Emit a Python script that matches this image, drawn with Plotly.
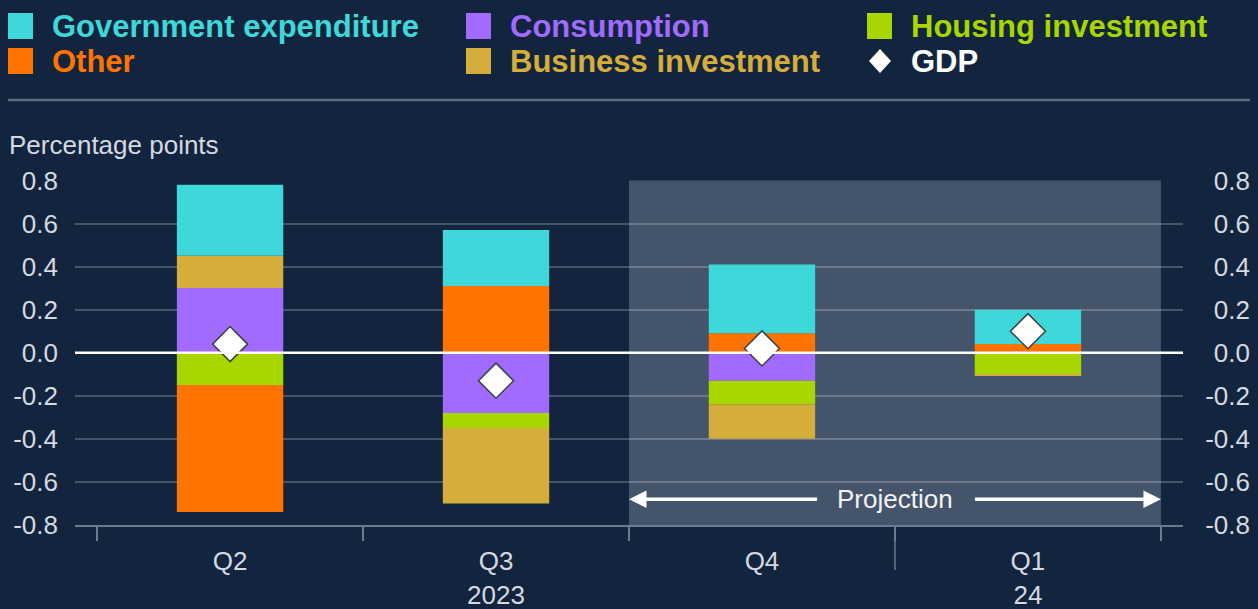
import plotly.graph_objects as go

# Quarterly contributions to GDP growth, percentage points
categories = ["Q2", "Q3", "Q4", "Q1"]
tick_labels = ["Q2", "Q3<br>2023", "Q4", "Q1<br>24"]
consumption = [0.30, -0.28, -0.13, 0.0]
housing_investment = [-0.15, -0.07, -0.11, -0.10]
other = [-0.59, 0.31, 0.09, 0.04]
business_investment = [0.15, -0.35, -0.16, -0.005]
government_expenditure = [0.33, 0.26, 0.32, 0.16]
gdp = [0.04, -0.13, 0.02, 0.10]

y_ticks = [-0.8, -0.6, -0.4, -0.2, 0.0, 0.2, 0.4, 0.6, 0.8]
y_tick_labels = ["-0.8", "-0.6", "-0.4", "-0.2", "0.0", "0.2", "0.4", "0.6", "0.8"]

projection_start = 1.5   # boundary between Q3 and Q4
projection_end = 3.5

BG = "#13243f"
SHADE = "#44546a"
GRID = "rgba(255,255,255,0.22)"
TEXT = "#d5d9e0"
AXIS = "#6a7a90"
FONT = "Liberation Sans, Arial, sans-serif"

colors = {
    "Government expenditure": "#3fd8da",
    "Consumption": "#a06bfe",
    "Housing investment": "#a7d600",
    "Other": "#ff7300",
    "Business investment": "#d4ad3b",
    "GDP": "#ffffff",
}

# page geometry (pixels) used for decorations outside the axes
W, H = 1258, 609
M_L, M_R, M_T, M_B = 75, 8, 180, 84
PLOT_RIGHT = 1183
PW = W - M_L - M_R
PH = H - M_T - M_B


def px_x(x):
    return (x - M_L) / PW


def px_y(y):
    return (H - M_B - y) / PH


fig = go.Figure()

# stacking order matters for "relative" bars
for name, vals in [
    ("Consumption", consumption),
    ("Housing investment", housing_investment),
    ("Other", other),
    ("Business investment", business_investment),
    ("Government expenditure", government_expenditure),
]:
    fig.add_trace(go.Bar(
        x=categories, y=vals, name=name,
        marker=dict(color=colors[name], line=dict(width=0)),
        showlegend=False,
    ))

fig.add_trace(go.Scatter(
    x=categories, y=gdp, name="GDP", mode="markers",
    marker=dict(symbol="diamond", size=27, color="white",
                line=dict(color="#3a3f48", width=1.5)),
    showlegend=False, cliponaxis=False,
))

# invisible trace to drive the right-hand axis
fig.add_trace(go.Scatter(x=categories, y=gdp, yaxis="y2", mode="markers",
                         marker=dict(opacity=0), showlegend=False,
                         hoverinfo="skip"))

shapes = [
    # projection period shading
    dict(type="rect", xref="x", yref="y", x0=projection_start, x1=projection_end,
         y0=-0.8, y1=0.8, fillcolor=SHADE, line=dict(width=0), layer="below"),
    # zero line drawn over the bars
    dict(type="line", xref="paper", yref="y", x0=0, x1=px_x(PLOT_RIGHT), y0=0, y1=0,
         line=dict(color="white", width=2.5), layer="above"),
    # year divider between Q4 and Q1
    dict(type="line", xref="x", yref="paper", x0=2.5, x1=2.5,
         y0=px_y(527), y1=px_y(570), line=dict(color=AXIS, width=1.5)),
    # rule under the legend
    dict(type="line", xref="paper", yref="paper", x0=px_x(8), x1=px_x(1250),
         y0=px_y(100), y1=px_y(100), line=dict(color="#5b6b82", width=2.5)),
]

annotations = []

# legend block
legend_items = [
    ("Government expenditure", 8, 26),
    ("Consumption", 466, 26),
    ("Housing investment", 867, 26),
    ("Other", 8, 61),
    ("Business investment", 466, 61),
    ("GDP", 867, 61),
]
for name, lx, ly in legend_items:
    if name == "GDP":
        cx, cy = lx + 13, ly
        path = (f"M {px_x(cx)},{px_y(cy - 12)} L {px_x(cx + 11)},{px_y(cy)} "
                f"L {px_x(cx)},{px_y(cy + 12)} L {px_x(cx - 11)},{px_y(cy)} Z")
        shapes.append(dict(type="path", xref="paper", yref="paper", path=path,
                           fillcolor="white", line=dict(width=0)))
    else:
        shapes.append(dict(type="rect", xref="paper", yref="paper",
                           x0=px_x(lx), x1=px_x(lx + 25),
                           y0=px_y(ly + 13), y1=px_y(ly - 13),
                           fillcolor=colors[name], line=dict(width=0)))
    annotations.append(dict(
        xref="paper", yref="paper", x=px_x(lx + 42), y=px_y(ly),
        xanchor="left", yanchor="middle", showarrow=False, text=f"<b>{name}</b>",
        font=dict(family=FONT, size=31, color=colors[name]),
    ))

annotations.append(dict(
    xref="paper", yref="paper", x=px_x(7), y=px_y(145), xanchor="left",
    yanchor="middle", showarrow=False, text="Percentage points",
    font=dict(family=FONT, size=26, color=TEXT),
))

# projection label with arrows
annotations.append(dict(
    xref="x", yref="y", x=2.5, y=-0.68, showarrow=False, text="Projection",
    font=dict(family=FONT, size=26, color="#f2f2f2"),
))
for head, tail in [(projection_start, 2.213), (projection_end, 2.795)]:
    annotations.append(dict(
        xref="x", yref="y", axref="x", ayref="y", x=head, y=-0.68, ax=tail, ay=-0.68,
        text="", showarrow=True, arrowhead=2, arrowsize=1.0, arrowwidth=3.5,
        arrowcolor="white", standoff=0,
    ))

fig.update_layout(
    width=W, height=H,
    margin=dict(l=M_L, r=M_R, t=M_T, b=M_B, pad=0, autoexpand=False),
    paper_bgcolor=BG, plot_bgcolor=BG,
    barmode="relative", bargap=0.6,
    font=dict(family=FONT, size=26, color=TEXT),
    shapes=shapes, annotations=annotations,
    xaxis=dict(
        type="category", domain=[0, px_x(PLOT_RIGHT)],
        range=[-0.583, 3.583], tickmode="array", tickvals=categories,
        ticktext=tick_labels, tickson="boundaries", ticks="outside",
        ticklen=14, tickwidth=1.5, tickcolor=AXIS, showgrid=False,
        showline=True, linecolor=AXIS, linewidth=2, ticklabelstandoff=12,
        tickfont=dict(family=FONT, size=26, color=TEXT), zeroline=False,
        automargin=False,
    ),
    yaxis=dict(
        range=[-0.8, 0.802], tickmode="array", tickvals=y_ticks,
        ticktext=y_tick_labels, showgrid=True, gridcolor=GRID, gridwidth=2,
        zeroline=False, ticks="", ticklabelstandoff=16, automargin=False,
        tickfont=dict(family=FONT, size=26, color=TEXT),
    ),
    yaxis2=dict(
        overlaying="y", anchor="free", position=1.0, side="left",
        range=[-0.8, 0.802], tickmode="array", tickvals=y_ticks,
        ticktext=y_tick_labels, showgrid=False, zeroline=False, ticks="",
        ticklabelstandoff=0, showline=False, automargin=False,
        tickfont=dict(family=FONT, size=26, color=TEXT),
    ),
)

fig.write_html("out.html")
